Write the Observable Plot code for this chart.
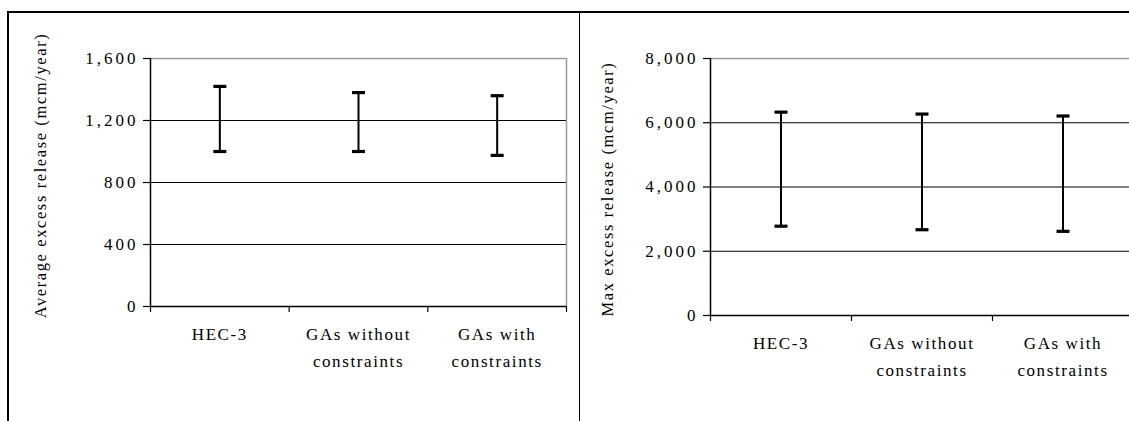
<!DOCTYPE html>
<html><head><meta charset="utf-8">
<script src="https://cdn.jsdelivr.net/npm/d3@7"></script>
<script src="https://cdn.jsdelivr.net/npm/@observablehq/plot@0.6"></script>
<style>
body{margin:0;background:#fff;overflow:hidden}
#wrap{position:relative;width:1129px;height:421px;overflow:hidden;background:#fff}
.panel{position:absolute;top:0;height:421px}
.panel svg{max-width:none !important;display:block}
.b{position:absolute;background:#000}
#wrap svg, #wrap svg text{font-family:"Liberation Serif","Times New Roman",serif !important}
</style></head><body>
<div id="wrap">
  <div id="p1" class="panel" style="left:0px;width:580px"></div>
  <div id="p2" class="panel" style="left:580px;width:560px"></div>
  <div class="b" style="left:7px;top:11px;width:1200px;height:1.5px"></div>
  <div class="b" style="left:7px;top:11px;width:1.5px;height:420px"></div>
  <div class="b" style="left:578.5px;top:11px;width:1.5px;height:420px"></div>
</div>
<script>
const categories = ["HEC-3", "GAs without\nconstraints", "GAs with\nconstraints"];
const avgLow  = [1000, 1000, 975];
const avgHigh = [1420, 1380, 1360];
const maxLow  = [2780, 2670, 2620];
const maxHigh = [6330, 6270, 6210];
const avgTicks = [0, 400, 800, 1200, 1600];
const maxTicks = [0, 2000, 4000, 6000, 8000];
const avgTitle = "Average excess release (mcm/year)";
const maxTitle = "Max excess release (mcm/year)";

const capSymbol = {
  draw(ctx, size) {
    const r = Math.sqrt(size / Math.PI);
    ctx.moveTo(-r, 0);
    ctx.lineTo(r, 0);
  }
};

function panel({low, high, ticks, title, width, left, right, bottom, titleDx, titleDy}) {
  const n = categories.length;
  const idx = d3.range(n);
  const bounds = d3.range(n + 1);
  const top = ticks[ticks.length - 1];
  return Plot.plot({
    width, height: 421,
    marginLeft: left, marginRight: width - right, marginTop: 58, marginBottom: 421 - bottom,
    style: {fontFamily: "'Liberation Serif', serif", fontSize: "17px", color: "#000", background: "transparent", overflow: "visible", maxWidth: "none"},
    x: {domain: [0, n], range: [left, right], axis: null},
    y: {domain: [0, top], range: [bottom, 58], axis: null},
    marks: [
      Plot.ruleY(ticks.slice(1, -1), {stroke: "#000", strokeWidth: 1}),
      Plot.ruleY([top], {stroke: "#9a9a9a", strokeWidth: 1.5}),
      Plot.ruleX([n], {stroke: "#9a9a9a", strokeWidth: 1.5}),
      Plot.ruleY([0], {stroke: "#000", strokeWidth: 1.5}),
      Plot.ruleX([0], {stroke: "#000", strokeWidth: 1.5}),
      Plot.axisY({ticks, tickSize: 7, tickPadding: 5, tickFormat: d3.format(","), fontSize: 17, stroke: "#000", strokeWidth: 1.2, label: null}),
      Plot.axisX({ticks: bounds, tickSize: 6, tickFormat: () => "", stroke: "#000", strokeWidth: 1.2, label: null}),
      Plot.axisX({ticks: idx.map(i => i + 0.5), tickSize: 0, tickPadding: 15, lineHeight: 1.55, tickFormat: v => categories[Math.floor(v)], fontSize: 17, label: null}),
      Plot.text([title], {frameAnchor: "left", rotate: -90, dx: titleDx, dy: titleDy, fontSize: 16.5, textAnchor: "middle"}),
      Plot.ruleX(idx, {x: i => i + 0.5, y1: i => low[i], y2: i => high[i], stroke: "#000", strokeWidth: 2}),
      Plot.dot(idx, {x: i => i + 0.5, y: i => low[i], symbol: capSymbol, r: 6.5, stroke: "#000", strokeWidth: 3.2, fill: "none"}),
      Plot.dot(idx, {x: i => i + 0.5, y: i => high[i], symbol: capSymbol, r: 6.5, stroke: "#000", strokeWidth: 3.2, fill: "none"})
    ]
  });
}

const s1 = panel({low: avgLow, high: avgHigh, ticks: avgTicks, title: avgTitle, width: 580, left: 150, right: 566, bottom: 306, titleDx: -110, titleDy: -7});
const s2 = panel({low: maxLow, high: maxHigh, ticks: maxTicks, title: maxTitle, width: 560, left: 130, right: 553, bottom: 315, titleDx: -103, titleDy: 2});
for (const s of [s1, s2]) {
  s.querySelectorAll("text").forEach(t => { t.style.letterSpacing = "1.6px"; });
  s.querySelectorAll("[aria-label='y-axis tick label'] text").forEach(t => { t.style.letterSpacing = "3px"; });
}
document.getElementById("p1").appendChild(s1);
document.getElementById("p2").appendChild(s2);
</script>
</body></html>
